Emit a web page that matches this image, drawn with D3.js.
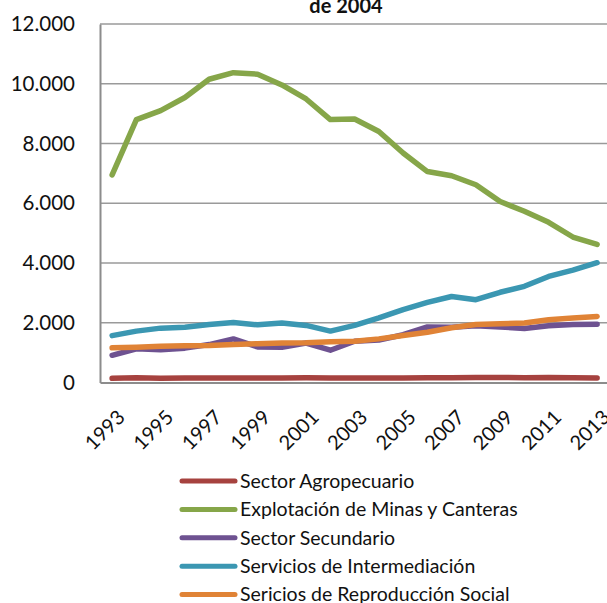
<!DOCTYPE html>
<html>
<head>
<meta charset="utf-8">
<script src="https://cdn.jsdelivr.net/npm/d3@7"></script>
<style>
  body { margin: 0; background: #fff; }
  svg { display: block; font-family: Lato, "Liberation Sans", sans-serif; }
</style>
</head>
<body>
<div id="chart"></div>
<script>
// years on the category axis
const years = [1993, 1994, 1995, 1996, 1997, 1998, 1999, 2000, 2001, 2002, 2003,
  2004, 2005, 2006, 2007, 2008, 2009, 2010, 2011, 2012, 2013];

const tickYears = [1993, 1995, 1997, 1999, 2001, 2003, 2005, 2007, 2009, 2011, 2013];
const yTicks = [0, 2000, 4000, 6000, 8000, 10000, 12000];

// values
const agropecuario = [140, 160, 140, 150, 150, 150, 150, 150, 155, 150, 150,
  150, 150, 160, 160, 170, 170, 160, 170, 160, 150];
const minas = [6950, 8800, 9100, 9540, 10150, 10370, 10320, 9960, 9490, 8800, 8820,
  8400, 7680, 7060, 6920, 6620, 6060, 5730, 5360, 4870, 4620];
const secundario = [910, 1130, 1100, 1150, 1270, 1460, 1190, 1180, 1320, 1080, 1380,
  1420, 1600, 1860, 1850, 1900, 1860, 1810, 1900, 1940, 1950];
const intermediacion = [1570, 1720, 1820, 1850, 1940, 2010, 1930, 1990, 1910, 1720, 1910,
  2160, 2440, 2680, 2880, 2770, 3020, 3220, 3550, 3760, 4010];
const reproduccion = [1160, 1180, 1210, 1230, 1240, 1270, 1300, 1320, 1330, 1360, 1380,
  1460, 1570, 1680, 1830, 1940, 1970, 1990, 2100, 2160, 2210];

const seriesNames = ["Sector Agropecuario", "Explotación de Minas y Canteras",
  "Sector Secundario", "Servicios de Intermediación", "Sericios de Reproducción Social"];
const seriesColors = ["#a6423f", "#86a649", "#6e5291", "#3b97b2", "#e08336"];

const series = [agropecuario, minas, secundario, intermediacion, reproduccion]
  .map((vals, i) => ({ name: seriesNames[i], color: seriesColors[i], values: vals }));

const width = 607, height = 603;
const margin = { top: 24, left: 100 };
const plotBottom = 382.5;
const plotRight = 100 + 21 * 24.25;

const svg = d3.select("#chart").append("svg")
  .attr("width", width)
  .attr("height", height);

const x = d3.scaleBand()
  .domain(years)
  .range([margin.left, plotRight]);

const y = d3.scaleLinear()
  .domain([0, 12000])
  .range([plotBottom, margin.top]);

const fmt = d => d3.format(",")(d).replace(/,/g, ".");

// gridlines
svg.append("g")
  .selectAll("line")
  .data(yTicks.filter(d => d > 0))
  .join("line")
  .attr("x1", margin.left)
  .attr("x2", plotRight)
  .attr("y1", d => y(d))
  .attr("y2", d => y(d))
  .attr("stroke", "#9a9a9a")
  .attr("stroke-width", 1.5);

// y axis
const yAxis = svg.append("g")
  .attr("transform", `translate(${margin.left},0)`)
  .call(d3.axisLeft(y).tickValues(yTicks).tickFormat(fmt).tickSize(0).tickPadding(25));
yAxis.select(".domain").attr("stroke", "#8c8c8c").attr("stroke-width", 2);
yAxis.selectAll("text")
  .attr("font-family", "Lato, sans-serif")
  .attr("font-size", 20.5)
  .attr("fill", "#111");

// x axis
const xAxis = svg.append("g")
  .attr("transform", `translate(0,${plotBottom})`)
  .call(d3.axisBottom(x).tickValues(tickYears).tickSize(0).tickSizeOuter(0));
xAxis.select(".domain").attr("stroke", "#8c8c8c").attr("stroke-width", 2);
xAxis.selectAll("text")
  .attr("font-family", "Lato, sans-serif")
  .attr("font-size", 20)
  .attr("fill", "#111")
  .attr("text-anchor", "end")
  .attr("dy", 0)
  .attr("y", 0)
  .attr("transform", "translate(14,36) rotate(-45)");

// lines
const line = d3.line()
  .x((d, i) => x(years[i]) + x.bandwidth() / 2)
  .y(d => y(d));

svg.append("g")
  .selectAll("path")
  .data(series)
  .join("path")
  .attr("d", d => line(d.values))
  .attr("fill", "none")
  .attr("stroke", d => d.color)
  .attr("stroke-width", 5.5)
  .attr("stroke-linejoin", "round")
  .attr("stroke-linecap", "round");

// title (only the last line is visible)
svg.append("text")
  .attr("x", 346)
  .attr("y", 13)
  .attr("text-anchor", "middle")
  .attr("font-family", "Lato, sans-serif")
  .attr("font-weight", "bold")
  .attr("font-size", 20)
  .attr("fill", "#111")
  .text("de 2004");

// legend
const legend = svg.append("g")
  .selectAll("g")
  .data(series)
  .join("g")
  .attr("transform", (d, i) => `translate(182,${481 + i * 28.4})`);

legend.append("line")
  .attr("x1", 0)
  .attr("x2", 53)
  .attr("stroke", d => d.color)
  .attr("stroke-width", 5)
  .attr("stroke-linecap", "round");

legend.append("text")
  .attr("x", 58)
  .attr("dy", "0.35em")
  .attr("font-family", "Lato, sans-serif")
  .attr("font-size", 19.5)
  .attr("fill", "#111")
  .text(d => d.name);
</script>
</body>
</html>
